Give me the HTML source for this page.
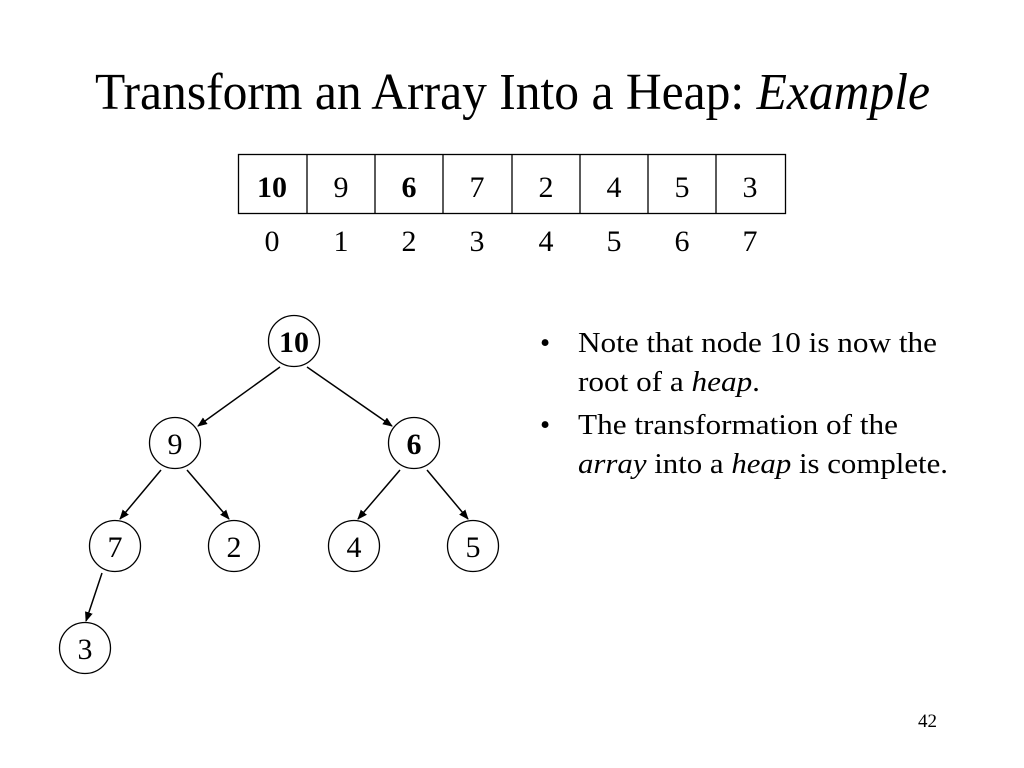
<!DOCTYPE html>
<html><head><meta charset="utf-8"><style>
html,body{margin:0;padding:0;background:#fff;}
svg{display:block;font-family:"Liberation Serif",serif;}
</style></head><body>
<svg width="1024" height="768" viewBox="0 0 1024 768" xmlns="http://www.w3.org/2000/svg">
<defs><marker id="a" markerWidth="10" markerHeight="8" refX="9" refY="4" orient="auto" markerUnits="userSpaceOnUse"><path d="M0,0 L10,4 L0,8 Z" fill="#000"/></marker></defs>
<text x="95" y="109" font-size="52" textLength="835" lengthAdjust="spacingAndGlyphs">Transform an Array Into a Heap: <tspan font-style="italic">Example</tspan></text>
<g stroke="#000" stroke-width="1.3" fill="none">
<rect x="238.5" y="154.5" width="547" height="59"/>
<line x1="307" y1="154" x2="307" y2="214"/><line x1="375" y1="154" x2="375" y2="214"/><line x1="443" y1="154" x2="443" y2="214"/><line x1="512" y1="154" x2="512" y2="214"/><line x1="580" y1="154" x2="580" y2="214"/><line x1="648" y1="154" x2="648" y2="214"/><line x1="716" y1="154" x2="716" y2="214"/>
</g>
<g font-size="30" text-anchor="middle">
<text x="272" y="197" font-weight="bold">10</text><text x="341" y="197">9</text><text x="409" y="197" font-weight="bold">6</text><text x="477" y="197">7</text><text x="546" y="197">2</text><text x="614" y="197">4</text><text x="682" y="197">5</text><text x="750" y="197">3</text>
<text x="272" y="251">0</text><text x="341" y="251">1</text><text x="409" y="251">2</text><text x="477" y="251">3</text><text x="546" y="251">4</text><text x="614" y="251">5</text><text x="682" y="251">6</text><text x="750" y="251">7</text>
</g>
<g stroke="#000" stroke-width="1.5" marker-end="url(#a)">
<line x1="280" y1="367" x2="198" y2="426"/><line x1="307" y1="367" x2="392" y2="426"/>
<line x1="161" y1="470" x2="120" y2="519"/><line x1="187" y1="470" x2="229" y2="519"/>
<line x1="400" y1="470" x2="358" y2="519"/><line x1="427" y1="470" x2="468" y2="519"/>
<line x1="102" y1="573" x2="86" y2="621"/>
</g>
<g stroke="#000" stroke-width="1.3" fill="#fff">
<circle cx="294" cy="341" r="25.5"/><circle cx="175" cy="443" r="25.5"/><circle cx="414" cy="443" r="25.5"/>
<circle cx="115" cy="546" r="25.5"/><circle cx="234" cy="546" r="25.5"/><circle cx="354" cy="546" r="25.5"/><circle cx="473" cy="546" r="25.5"/><circle cx="85" cy="648" r="25.5"/>
</g>
<g font-size="30" text-anchor="middle">
<text x="294" y="352" font-weight="bold">10</text><text x="175" y="454">9</text><text x="414" y="454" font-weight="bold">6</text>
<text x="115" y="557">7</text><text x="234" y="557">2</text><text x="354" y="557">4</text><text x="473" y="557">5</text><text x="85" y="659">3</text>
</g>
<g font-size="29">
<text x="540" y="352">•</text><text x="578" y="352" textLength="359" lengthAdjust="spacingAndGlyphs">Note that node 10 is now the</text>
<text x="578" y="391" textLength="182" lengthAdjust="spacingAndGlyphs">root of a <tspan font-style="italic">heap</tspan>.</text>
<text x="540" y="434">•</text><text x="578" y="434" textLength="320" lengthAdjust="spacingAndGlyphs">The transformation of the</text>
<text x="578" y="473" textLength="370" lengthAdjust="spacingAndGlyphs"><tspan font-style="italic">array</tspan> into a <tspan font-style="italic">heap</tspan> is complete.</text>
</g>
<text x="918" y="727" font-size="19">42</text>
</svg>
</body></html>
